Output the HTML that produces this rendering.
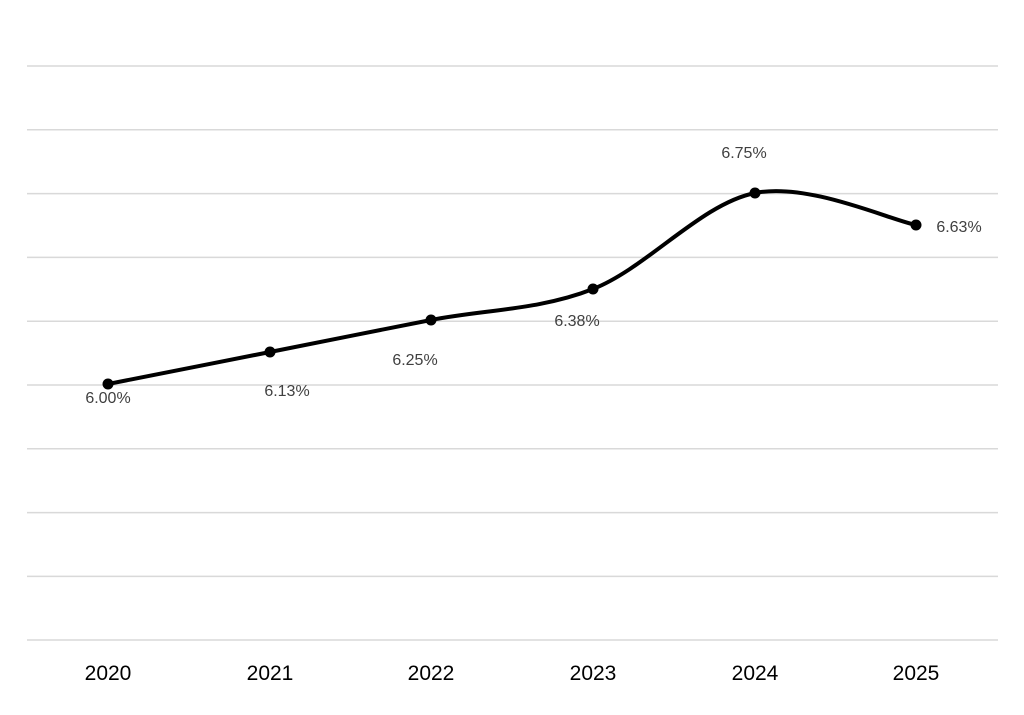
<!DOCTYPE html>
<html><head><meta charset="utf-8"><style>
html,body{margin:0;padding:0;background:#fff;}
svg{display:block;}
text{font-family:"Liberation Sans",sans-serif;}
</style></head><body>
<svg width="1024" height="715" viewBox="0 0 1024 715">
<g stroke="#d9d9d9" stroke-width="1.5">
<line x1="27" x2="998" y1="66" y2="66"/>
<line x1="27" x2="998" y1="129.8" y2="129.8"/>
<line x1="27" x2="998" y1="193.6" y2="193.6"/>
<line x1="27" x2="998" y1="257.4" y2="257.4"/>
<line x1="27" x2="998" y1="321.2" y2="321.2"/>
<line x1="27" x2="998" y1="385" y2="385"/>
<line x1="27" x2="998" y1="448.8" y2="448.8"/>
<line x1="27" x2="998" y1="512.6" y2="512.6"/>
<line x1="27" x2="998" y1="576.4" y2="576.4"/>
<line x1="27" x2="998" y1="640" y2="640"/>
</g>
<path d="M108,384 C135,378.7 216.2,362.7 270,352 C323.8,341.3 377.2,330.5 431,320 C484.8,309.5 539,310.2 593,289 C647,267.8 701.2,203.7 755,193 C808.8,182.3 889.2,219.7 916,225" fill="none" stroke="#000" stroke-width="4" stroke-linecap="round"/>
<g fill="#000">
<circle cx="108" cy="384" r="5.5"/><circle cx="270" cy="352" r="5.5"/><circle cx="431" cy="320" r="5.5"/>
<circle cx="593" cy="289" r="5.5"/><circle cx="755" cy="193" r="5.5"/><circle cx="916" cy="225" r="5.5"/>
</g>
<g fill="#404040" font-size="16" text-anchor="middle">
<text x="108" y="403">6.00%</text>
<text x="287" y="396">6.13%</text>
<text x="415" y="365">6.25%</text>
<text x="577" y="326">6.38%</text>
<text x="744" y="158">6.75%</text>
<text x="959" y="232">6.63%</text>
</g>
<g fill="#000" font-size="21" text-anchor="middle">
<text x="108" y="680">2020</text>
<text x="270" y="680">2021</text>
<text x="431" y="680">2022</text>
<text x="593" y="680">2023</text>
<text x="755" y="680">2024</text>
<text x="916" y="680">2025</text>
</g>
</svg>
</body></html>
